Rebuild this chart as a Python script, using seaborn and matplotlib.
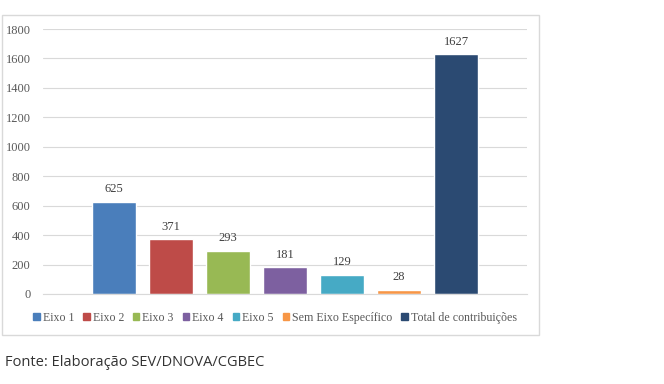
import numpy as np
import pandas as pd
import seaborn as sns
import matplotlib.pyplot as plt
from matplotlib.patches import Rectangle

# Data
categorias = ['Eixo 1', 'Eixo 2', 'Eixo 3', 'Eixo 4', 'Eixo 5', 'Sem Eixo Específico', 'Total de contribuições']
valores = [625, 371, 293, 181, 129, 28, 1627]
cores = ['#4a7ebb', '#be4b48', '#98b954', '#7d60a0', '#46aac5', '#f79646', '#2b4a72']

df = pd.DataFrame({'cat': categorias, 'val': valores})

sns.set_style('white')
plt.rcParams['font.family'] = ['Liberation Serif', 'DejaVu Serif']

fig = plt.figure(figsize=(6.64, 3.84), dpi=100)
W, H = 664, 384
ax = fig.add_axes([43 / W, 1 - 294 / H, 484 / W, 265 / H])

# Outer chart border
fig.patches.append(Rectangle((2 / W, 1 - 335 / H), 537 / W, 320 / H, transform=fig.transFigure,
                             fill=False, edgecolor='#d9d9d9', linewidth=1))

sns.barplot(data=df, x='cat', y='val', hue='cat', palette=cores, width=0.77,
            dodge=False, legend=False, ax=ax, saturation=1)

for i, v in enumerate(valores):
    ax.text(i, v + 45, str(v), ha='center', va='bottom', fontsize=9, color='#404040')

ax.set_ylim(0, 1800)
ax.set_xlim(-1.246, 7.246)
ax.set_yticks(np.arange(0, 1801, 200))
ax.yaxis.grid(True, color='#d9d9d9', linewidth=0.8)
ax.set_axisbelow(True)
ax.set_xticks([])
ax.set_xlabel('')
ax.set_ylabel('')
for s in ['top', 'right', 'left']:
    ax.spines[s].set_visible(False)
ax.spines['bottom'].set_color('#d9d9d9')
ax.tick_params(axis='y', labelsize=9, labelcolor='#595959', length=0, pad=9)

handles = [Rectangle((0, 0), 1, 1, color=c) for c in cores]
fig.legend(handles, categorias, loc='center', bbox_to_anchor=(275 / W, 1 - 318 / H), ncol=7,
           frameon=False, fontsize=8.6, handlelength=0.55, handleheight=0.55, handletextpad=0.25,
           columnspacing=0.75, labelcolor='#595959')

fig.text(5 / W, 1 - 363 / H, 'Fonte: Elaboração SEV/DNOVA/CGBEC', fontsize=10.5,
         family=['Open Sans', 'DejaVu Sans'], color='#333333', va='center')

fig.savefig('out.png', dpi=100, facecolor='white')
